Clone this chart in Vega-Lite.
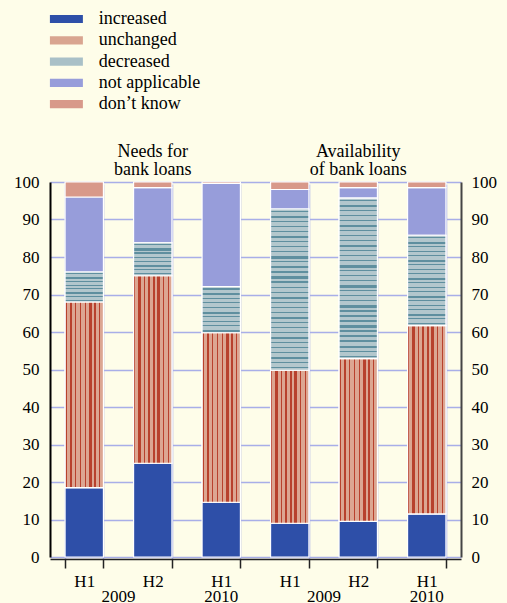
{
  "$schema": "https://vega.github.io/schema/vega-lite/v6.json",
  "width": 411,
  "height": 375,
  "autosize": {"type": "none"},
  "padding": {"left": 50, "top": 182, "right": 46, "bottom": 46},
  "background": "#fefde9",
  "config": {
    "view": {"stroke": null},
    "font": "Liberation Serif, Times New Roman, Times, serif",
    "axisX": {
      "labelExpr": "split(datum.label,' ')[1]", "labelAngle": 0,
      "labelFont": "Liberation Serif, Times New Roman, Times, serif",
      "labelFontSize": 17, "labelColor": "#000000", "labelPadding": 5,
      "tickBand": "extent", "ticks": true, "tickSize": 9, "tickColor": "#222222", "tickWidth": 1.5,
      "domainColor": "#222222", "domainWidth": 1.5, "offset": 2,
      "grid": true, "gridColor": "#a8aee8", "gridWidth": 1.5
    }
  },
  "datasets": {
    "bars": [
      {"bar": "Needs H1 2009", "half": "H1", "year": "2009", "series": "increased", "value": 18.5},
      {"bar": "Needs H1 2009", "half": "H1", "year": "2009", "series": "unchanged", "value": 49.5},
      {"bar": "Needs H1 2009", "half": "H1", "year": "2009", "series": "decreased", "value": 8},
      {"bar": "Needs H1 2009", "half": "H1", "year": "2009", "series": "not applicable", "value": 20},
      {"bar": "Needs H1 2009", "half": "H1", "year": "2009", "series": "don’t know", "value": 4},
      {"bar": "Needs H2 2009", "half": "H2", "year": "2009", "series": "increased", "value": 25},
      {"bar": "Needs H2 2009", "half": "H2", "year": "2009", "series": "unchanged", "value": 50},
      {"bar": "Needs H2 2009", "half": "H2", "year": "2009", "series": "decreased", "value": 8.8},
      {"bar": "Needs H2 2009", "half": "H2", "year": "2009", "series": "not applicable", "value": 14.7},
      {"bar": "Needs H2 2009", "half": "H2", "year": "2009", "series": "don’t know", "value": 1.5},
      {"bar": "Needs H1 2010", "half": "H1", "year": "2010", "series": "increased", "value": 14.6},
      {"bar": "Needs H1 2010", "half": "H1", "year": "2010", "series": "unchanged", "value": 45.2},
      {"bar": "Needs H1 2010", "half": "H1", "year": "2010", "series": "decreased", "value": 12.3},
      {"bar": "Needs H1 2010", "half": "H1", "year": "2010", "series": "not applicable", "value": 27.5},
      {"bar": "Needs H1 2010", "half": "H1", "year": "2010", "series": "don’t know", "value": 0.4},
      {"bar": "Availability H1 2009", "half": "H1", "year": "2009", "series": "increased", "value": 9},
      {"bar": "Availability H1 2009", "half": "H1", "year": "2009", "series": "unchanged", "value": 40.8},
      {"bar": "Availability H1 2009", "half": "H1", "year": "2009", "series": "decreased", "value": 43},
      {"bar": "Availability H1 2009", "half": "H1", "year": "2009", "series": "not applicable", "value": 5.2},
      {"bar": "Availability H1 2009", "half": "H1", "year": "2009", "series": "don’t know", "value": 2},
      {"bar": "Availability H2 2009", "half": "H2", "year": "2009", "series": "increased", "value": 9.5},
      {"bar": "Availability H2 2009", "half": "H2", "year": "2009", "series": "unchanged", "value": 43.4},
      {"bar": "Availability H2 2009", "half": "H2", "year": "2009", "series": "decreased", "value": 42.8},
      {"bar": "Availability H2 2009", "half": "H2", "year": "2009", "series": "not applicable", "value": 2.8},
      {"bar": "Availability H2 2009", "half": "H2", "year": "2009", "series": "don’t know", "value": 1.5},
      {"bar": "Availability H1 2010", "half": "H1", "year": "2010", "series": "increased", "value": 11.5},
      {"bar": "Availability H1 2010", "half": "H1", "year": "2010", "series": "unchanged", "value": 50.2},
      {"bar": "Availability H1 2010", "half": "H1", "year": "2010", "series": "decreased", "value": 24.1},
      {"bar": "Availability H1 2010", "half": "H1", "year": "2010", "series": "not applicable", "value": 12.7},
      {"bar": "Availability H1 2010", "half": "H1", "year": "2010", "series": "don’t know", "value": 1.5}
    ],
    "titles": [
      {"bar": "Needs H2 2009", "label": "Needs for\nbank loans"},
      {"bar": "Availability H2 2009", "label": "Availability\nof bank loans"}
    ]
  },
  "layer": [
    {
      "data": {"name": "bars"},
      "transform": [
        {"calculate": "indexof(['increased','unchanged','decreased','not applicable','don’t know'], datum.series)", "as": "k"},
        {"stack": "value", "groupby": ["bar"], "sort": [{"field": "k", "order": "ascending"}], "as": ["y0", "y1"]}
      ],
      "mark": {"type": "bar", "stroke": "#ffffff", "strokeWidth": 1.2},
      "encoding": {
        "x": {
          "field": "bar", "type": "nominal", "title": null,
          "scale": {"domain": ["Needs H1 2009", "Needs H2 2009", "Needs H1 2010", "Availability H1 2009", "Availability H2 2009", "Availability H1 2010"], "paddingInner": 0.44, "paddingOuter": 0.22}
        },
        "y": {
          "field": "y0", "type": "quantitative",
          "scale": {"domain": [0, 100], "nice": false},
          "axis": {
            "orient": "left", "title": null, "values": [0, 10, 20, 30, 40, 50, 60, 70, 80, 90, 100],
            "grid": true, "gridColor": "#a8aee8", "gridWidth": 1.5, "ticks": false,
            "domainColor": "#000000", "domainWidth": 2,
            "labelFont": "Liberation Serif, Times New Roman, Times, serif",
            "labelFontSize": 17, "labelPadding": 11, "labelColor": "#000000"
          }
        },
        "y2": {"field": "y1"},
        "color": {
          "field": "series", "type": "nominal",
          "scale": {
            "domain": ["increased", "unchanged", "decreased", "not applicable", "don’t know"],
            "range": ["#2e4fa8", "#d9a590", "#a9c0c7", "#979dda", "#d8998a"]
          },
          "legend": {
            "orient": "none", "legendX": 7.4, "legendY": -172, "title": null,
            "symbolType": "M-4,-1H4V1H-4Z", "symbolSize": 68, "symbolStrokeWidth": 0,
            "labelFontSize": 18, "labelFont": "Liberation Serif, Times New Roman, Times, serif", "labelColor": "#000000",
            "labelOffset": 23.3, "rowPadding": 3.3, "padding": 0
          }
        }
      }
    },
    {
      "data": {"name": "bars"},
      "transform": [
        {"calculate": "indexof(['increased','unchanged','decreased','not applicable','don’t know'], datum.series)", "as": "k"},
        {"stack": "value", "groupby": ["bar"], "sort": [{"field": "k", "order": "ascending"}], "as": ["y0", "y1"]},
        {"filter": "datum.series === 'unchanged'"}
      ],
      "mark": {
        "type": "bar", "stroke": "#ffffff", "strokeWidth": 1.2,
        "fill": {
          "gradient": "linear", "x1": 0, "y1": 0, "x2": 1, "y2": 0,
          "stops": [
            {"offset": 0, "color": "#dca692"},
            {"offset": 0.014, "color": "#dca692"}, {"offset": 0.014, "color": "#b8412d"}, {"offset": 0.046, "color": "#b8412d"}, {"offset": 0.046, "color": "#dca692"},
            {"offset": 0.12, "color": "#dca692"}, {"offset": 0.12, "color": "#b8412d"}, {"offset": 0.19, "color": "#b8412d"}, {"offset": 0.19, "color": "#dca692"},
            {"offset": 0.264, "color": "#dca692"}, {"offset": 0.264, "color": "#b8412d"}, {"offset": 0.296, "color": "#b8412d"}, {"offset": 0.296, "color": "#dca692"},
            {"offset": 0.389, "color": "#dca692"}, {"offset": 0.389, "color": "#b8412d"}, {"offset": 0.421, "color": "#b8412d"}, {"offset": 0.421, "color": "#dca692"},
            {"offset": 0.514, "color": "#dca692"}, {"offset": 0.514, "color": "#b8412d"}, {"offset": 0.546, "color": "#b8412d"}, {"offset": 0.546, "color": "#dca692"},
            {"offset": 0.62, "color": "#dca692"}, {"offset": 0.62, "color": "#b8412d"}, {"offset": 0.69, "color": "#b8412d"}, {"offset": 0.69, "color": "#dca692"},
            {"offset": 0.764, "color": "#dca692"}, {"offset": 0.764, "color": "#b8412d"}, {"offset": 0.796, "color": "#b8412d"}, {"offset": 0.796, "color": "#dca692"},
            {"offset": 0.889, "color": "#dca692"}, {"offset": 0.889, "color": "#b8412d"}, {"offset": 0.921, "color": "#b8412d"}, {"offset": 0.921, "color": "#dca692"},
            {"offset": 1, "color": "#dca692"}
          ]
        }
      },
      "encoding": {
        "x": {
          "field": "bar", "type": "nominal", "title": null,
          "scale": {"domain": ["Needs H1 2009", "Needs H2 2009", "Needs H1 2010", "Availability H1 2009", "Availability H2 2009", "Availability H1 2010"], "paddingInner": 0.44, "paddingOuter": 0.22}
        },
        "y": {
          "field": "y0", "type": "quantitative",
          "axis": {
            "orient": "right", "title": null, "values": [0, 10, 20, 30, 40, 50, 60, 70, 80, 90, 100],
            "grid": false, "ticks": false, "domainColor": "#444444", "domainWidth": 2,
            "labelFont": "Liberation Serif, Times New Roman, Times, serif",
            "labelFontSize": 17, "labelPadding": 10, "labelColor": "#000000"
          }
        },
        "y2": {"field": "y1"}
      }
    },
    {
      "data": {"name": "bars"},
      "transform": [
        {"calculate": "indexof(['increased','unchanged','decreased','not applicable','don’t know'], datum.series)", "as": "k"},
        {"stack": "value", "groupby": ["bar"], "sort": [{"field": "k", "order": "ascending"}], "as": ["y0", "y1"]},
        {"filter": "datum.series === 'decreased'"}
      ],
      "mark": {"type": "bar", "stroke": "#ffffff", "strokeWidth": 1.2},
      "encoding": {
        "x": {
          "field": "bar", "type": "nominal", "title": null,
          "scale": {"domain": ["Needs H1 2009", "Needs H2 2009", "Needs H1 2010", "Availability H1 2009", "Availability H2 2009", "Availability H1 2010"], "paddingInner": 0.44, "paddingOuter": 0.22}
        },
        "y": {"field": "y0", "type": "quantitative", "axis": null},
        "y2": {"field": "y1"},
        "fill": {
          "condition": [
            {
              "test": "datum.value > 30",
              "value": {
                "gradient": "linear", "x1": 0, "y1": 0, "x2": 0, "y2": 1,
                "stops": [
                  {"offset": 0, "color": "#b3c7cd"},
                  {"offset": 0.012, "color": "#b3c7cd"}, {"offset": 0.012, "color": "#5f8f9f"}, {"offset": 0.019, "color": "#5f8f9f"}, {"offset": 0.019, "color": "#b3c7cd"},
                  {"offset": 0.0433, "color": "#b3c7cd"}, {"offset": 0.0433, "color": "#5f8f9f"}, {"offset": 0.0573, "color": "#5f8f9f"}, {"offset": 0.0573, "color": "#b3c7cd"},
                  {"offset": 0.0745, "color": "#b3c7cd"}, {"offset": 0.0745, "color": "#5f8f9f"}, {"offset": 0.0815, "color": "#5f8f9f"}, {"offset": 0.0815, "color": "#b3c7cd"},
                  {"offset": 0.1058, "color": "#b3c7cd"}, {"offset": 0.1058, "color": "#5f8f9f"}, {"offset": 0.1128, "color": "#5f8f9f"}, {"offset": 0.1128, "color": "#b3c7cd"},
                  {"offset": 0.137, "color": "#b3c7cd"}, {"offset": 0.137, "color": "#5f8f9f"}, {"offset": 0.144, "color": "#5f8f9f"}, {"offset": 0.144, "color": "#b3c7cd"},
                  {"offset": 0.1683, "color": "#b3c7cd"}, {"offset": 0.1683, "color": "#5f8f9f"}, {"offset": 0.1823, "color": "#5f8f9f"}, {"offset": 0.1823, "color": "#b3c7cd"},
                  {"offset": 0.1995, "color": "#b3c7cd"}, {"offset": 0.1995, "color": "#5f8f9f"}, {"offset": 0.2065, "color": "#5f8f9f"}, {"offset": 0.2065, "color": "#b3c7cd"},
                  {"offset": 0.2308, "color": "#b3c7cd"}, {"offset": 0.2308, "color": "#5f8f9f"}, {"offset": 0.2378, "color": "#5f8f9f"}, {"offset": 0.2378, "color": "#b3c7cd"},
                  {"offset": 0.262, "color": "#b3c7cd"}, {"offset": 0.262, "color": "#5f8f9f"}, {"offset": 0.269, "color": "#5f8f9f"}, {"offset": 0.269, "color": "#b3c7cd"},
                  {"offset": 0.2933, "color": "#b3c7cd"}, {"offset": 0.2933, "color": "#5f8f9f"}, {"offset": 0.3073, "color": "#5f8f9f"}, {"offset": 0.3073, "color": "#b3c7cd"},
                  {"offset": 0.3245, "color": "#b3c7cd"}, {"offset": 0.3245, "color": "#5f8f9f"}, {"offset": 0.3315, "color": "#5f8f9f"}, {"offset": 0.3315, "color": "#b3c7cd"},
                  {"offset": 0.3558, "color": "#b3c7cd"}, {"offset": 0.3558, "color": "#5f8f9f"}, {"offset": 0.3628, "color": "#5f8f9f"}, {"offset": 0.3628, "color": "#b3c7cd"},
                  {"offset": 0.387, "color": "#b3c7cd"}, {"offset": 0.387, "color": "#5f8f9f"}, {"offset": 0.394, "color": "#5f8f9f"}, {"offset": 0.394, "color": "#b3c7cd"},
                  {"offset": 0.4183, "color": "#b3c7cd"}, {"offset": 0.4183, "color": "#5f8f9f"}, {"offset": 0.4323, "color": "#5f8f9f"}, {"offset": 0.4323, "color": "#b3c7cd"},
                  {"offset": 0.4495, "color": "#b3c7cd"}, {"offset": 0.4495, "color": "#5f8f9f"}, {"offset": 0.4565, "color": "#5f8f9f"}, {"offset": 0.4565, "color": "#b3c7cd"},
                  {"offset": 0.4808, "color": "#b3c7cd"}, {"offset": 0.4808, "color": "#5f8f9f"}, {"offset": 0.4878, "color": "#5f8f9f"}, {"offset": 0.4878, "color": "#b3c7cd"},
                  {"offset": 0.512, "color": "#b3c7cd"}, {"offset": 0.512, "color": "#5f8f9f"}, {"offset": 0.519, "color": "#5f8f9f"}, {"offset": 0.519, "color": "#b3c7cd"},
                  {"offset": 0.5433, "color": "#b3c7cd"}, {"offset": 0.5433, "color": "#5f8f9f"}, {"offset": 0.5573, "color": "#5f8f9f"}, {"offset": 0.5573, "color": "#b3c7cd"},
                  {"offset": 0.5745, "color": "#b3c7cd"}, {"offset": 0.5745, "color": "#5f8f9f"}, {"offset": 0.5815, "color": "#5f8f9f"}, {"offset": 0.5815, "color": "#b3c7cd"},
                  {"offset": 0.6058, "color": "#b3c7cd"}, {"offset": 0.6058, "color": "#5f8f9f"}, {"offset": 0.6128, "color": "#5f8f9f"}, {"offset": 0.6128, "color": "#b3c7cd"},
                  {"offset": 0.637, "color": "#b3c7cd"}, {"offset": 0.637, "color": "#5f8f9f"}, {"offset": 0.644, "color": "#5f8f9f"}, {"offset": 0.644, "color": "#b3c7cd"},
                  {"offset": 0.6683, "color": "#b3c7cd"}, {"offset": 0.6683, "color": "#5f8f9f"}, {"offset": 0.6823, "color": "#5f8f9f"}, {"offset": 0.6823, "color": "#b3c7cd"},
                  {"offset": 0.6995, "color": "#b3c7cd"}, {"offset": 0.6995, "color": "#5f8f9f"}, {"offset": 0.7065, "color": "#5f8f9f"}, {"offset": 0.7065, "color": "#b3c7cd"},
                  {"offset": 0.7308, "color": "#b3c7cd"}, {"offset": 0.7308, "color": "#5f8f9f"}, {"offset": 0.7378, "color": "#5f8f9f"}, {"offset": 0.7378, "color": "#b3c7cd"},
                  {"offset": 0.762, "color": "#b3c7cd"}, {"offset": 0.762, "color": "#5f8f9f"}, {"offset": 0.769, "color": "#5f8f9f"}, {"offset": 0.769, "color": "#b3c7cd"},
                  {"offset": 0.7933, "color": "#b3c7cd"}, {"offset": 0.7933, "color": "#5f8f9f"}, {"offset": 0.8073, "color": "#5f8f9f"}, {"offset": 0.8073, "color": "#b3c7cd"},
                  {"offset": 0.8245, "color": "#b3c7cd"}, {"offset": 0.8245, "color": "#5f8f9f"}, {"offset": 0.8315, "color": "#5f8f9f"}, {"offset": 0.8315, "color": "#b3c7cd"},
                  {"offset": 0.8558, "color": "#b3c7cd"}, {"offset": 0.8558, "color": "#5f8f9f"}, {"offset": 0.8628, "color": "#5f8f9f"}, {"offset": 0.8628, "color": "#b3c7cd"},
                  {"offset": 0.887, "color": "#b3c7cd"}, {"offset": 0.887, "color": "#5f8f9f"}, {"offset": 0.894, "color": "#5f8f9f"}, {"offset": 0.894, "color": "#b3c7cd"},
                  {"offset": 0.9183, "color": "#b3c7cd"}, {"offset": 0.9183, "color": "#5f8f9f"}, {"offset": 0.9323, "color": "#5f8f9f"}, {"offset": 0.9323, "color": "#b3c7cd"},
                  {"offset": 0.9495, "color": "#b3c7cd"}, {"offset": 0.9495, "color": "#5f8f9f"}, {"offset": 0.9565, "color": "#5f8f9f"}, {"offset": 0.9565, "color": "#b3c7cd"},
                  {"offset": 0.9808, "color": "#b3c7cd"}, {"offset": 0.9808, "color": "#5f8f9f"}, {"offset": 0.9878, "color": "#5f8f9f"}, {"offset": 0.9878, "color": "#b3c7cd"},
                  {"offset": 1, "color": "#b3c7cd"}
                ]
              }
            },
            {
              "test": "datum.value > 18",
              "value": {
                "gradient": "linear", "x1": 0, "y1": 0, "x2": 0, "y2": 1,
                "stops": [
                  {"offset": 0, "color": "#b3c7cd"},
                  {"offset": 0.02, "color": "#b3c7cd"}, {"offset": 0.02, "color": "#5f8f9f"}, {"offset": 0.032, "color": "#5f8f9f"}, {"offset": 0.032, "color": "#b3c7cd"},
                  {"offset": 0.07, "color": "#b3c7cd"}, {"offset": 0.07, "color": "#5f8f9f"}, {"offset": 0.095, "color": "#5f8f9f"}, {"offset": 0.095, "color": "#b3c7cd"},
                  {"offset": 0.12, "color": "#b3c7cd"}, {"offset": 0.12, "color": "#5f8f9f"}, {"offset": 0.132, "color": "#5f8f9f"}, {"offset": 0.132, "color": "#b3c7cd"},
                  {"offset": 0.17, "color": "#b3c7cd"}, {"offset": 0.17, "color": "#5f8f9f"}, {"offset": 0.182, "color": "#5f8f9f"}, {"offset": 0.182, "color": "#b3c7cd"},
                  {"offset": 0.22, "color": "#b3c7cd"}, {"offset": 0.22, "color": "#5f8f9f"}, {"offset": 0.232, "color": "#5f8f9f"}, {"offset": 0.232, "color": "#b3c7cd"},
                  {"offset": 0.27, "color": "#b3c7cd"}, {"offset": 0.27, "color": "#5f8f9f"}, {"offset": 0.295, "color": "#5f8f9f"}, {"offset": 0.295, "color": "#b3c7cd"},
                  {"offset": 0.32, "color": "#b3c7cd"}, {"offset": 0.32, "color": "#5f8f9f"}, {"offset": 0.332, "color": "#5f8f9f"}, {"offset": 0.332, "color": "#b3c7cd"},
                  {"offset": 0.37, "color": "#b3c7cd"}, {"offset": 0.37, "color": "#5f8f9f"}, {"offset": 0.382, "color": "#5f8f9f"}, {"offset": 0.382, "color": "#b3c7cd"},
                  {"offset": 0.42, "color": "#b3c7cd"}, {"offset": 0.42, "color": "#5f8f9f"}, {"offset": 0.432, "color": "#5f8f9f"}, {"offset": 0.432, "color": "#b3c7cd"},
                  {"offset": 0.47, "color": "#b3c7cd"}, {"offset": 0.47, "color": "#5f8f9f"}, {"offset": 0.495, "color": "#5f8f9f"}, {"offset": 0.495, "color": "#b3c7cd"},
                  {"offset": 0.52, "color": "#b3c7cd"}, {"offset": 0.52, "color": "#5f8f9f"}, {"offset": 0.532, "color": "#5f8f9f"}, {"offset": 0.532, "color": "#b3c7cd"},
                  {"offset": 0.57, "color": "#b3c7cd"}, {"offset": 0.57, "color": "#5f8f9f"}, {"offset": 0.582, "color": "#5f8f9f"}, {"offset": 0.582, "color": "#b3c7cd"},
                  {"offset": 0.62, "color": "#b3c7cd"}, {"offset": 0.62, "color": "#5f8f9f"}, {"offset": 0.632, "color": "#5f8f9f"}, {"offset": 0.632, "color": "#b3c7cd"},
                  {"offset": 0.67, "color": "#b3c7cd"}, {"offset": 0.67, "color": "#5f8f9f"}, {"offset": 0.695, "color": "#5f8f9f"}, {"offset": 0.695, "color": "#b3c7cd"},
                  {"offset": 0.72, "color": "#b3c7cd"}, {"offset": 0.72, "color": "#5f8f9f"}, {"offset": 0.732, "color": "#5f8f9f"}, {"offset": 0.732, "color": "#b3c7cd"},
                  {"offset": 0.77, "color": "#b3c7cd"}, {"offset": 0.77, "color": "#5f8f9f"}, {"offset": 0.782, "color": "#5f8f9f"}, {"offset": 0.782, "color": "#b3c7cd"},
                  {"offset": 0.82, "color": "#b3c7cd"}, {"offset": 0.82, "color": "#5f8f9f"}, {"offset": 0.832, "color": "#5f8f9f"}, {"offset": 0.832, "color": "#b3c7cd"},
                  {"offset": 0.87, "color": "#b3c7cd"}, {"offset": 0.87, "color": "#5f8f9f"}, {"offset": 0.895, "color": "#5f8f9f"}, {"offset": 0.895, "color": "#b3c7cd"},
                  {"offset": 0.92, "color": "#b3c7cd"}, {"offset": 0.92, "color": "#5f8f9f"}, {"offset": 0.932, "color": "#5f8f9f"}, {"offset": 0.932, "color": "#b3c7cd"},
                  {"offset": 0.97, "color": "#b3c7cd"}, {"offset": 0.97, "color": "#5f8f9f"}, {"offset": 0.982, "color": "#5f8f9f"}, {"offset": 0.982, "color": "#b3c7cd"},
                  {"offset": 1, "color": "#b3c7cd"}
                ]
              }
            },
            {
              "test": "datum.value > 10",
              "value": {
                "gradient": "linear", "x1": 0, "y1": 0, "x2": 0, "y2": 1,
                "stops": [
                  {"offset": 0, "color": "#b3c7cd"},
                  {"offset": 0.04, "color": "#b3c7cd"}, {"offset": 0.04, "color": "#5f8f9f"}, {"offset": 0.064, "color": "#5f8f9f"}, {"offset": 0.064, "color": "#b3c7cd"},
                  {"offset": 0.14, "color": "#b3c7cd"}, {"offset": 0.14, "color": "#5f8f9f"}, {"offset": 0.19, "color": "#5f8f9f"}, {"offset": 0.19, "color": "#b3c7cd"},
                  {"offset": 0.24, "color": "#b3c7cd"}, {"offset": 0.24, "color": "#5f8f9f"}, {"offset": 0.264, "color": "#5f8f9f"}, {"offset": 0.264, "color": "#b3c7cd"},
                  {"offset": 0.34, "color": "#b3c7cd"}, {"offset": 0.34, "color": "#5f8f9f"}, {"offset": 0.364, "color": "#5f8f9f"}, {"offset": 0.364, "color": "#b3c7cd"},
                  {"offset": 0.44, "color": "#b3c7cd"}, {"offset": 0.44, "color": "#5f8f9f"}, {"offset": 0.464, "color": "#5f8f9f"}, {"offset": 0.464, "color": "#b3c7cd"},
                  {"offset": 0.54, "color": "#b3c7cd"}, {"offset": 0.54, "color": "#5f8f9f"}, {"offset": 0.59, "color": "#5f8f9f"}, {"offset": 0.59, "color": "#b3c7cd"},
                  {"offset": 0.64, "color": "#b3c7cd"}, {"offset": 0.64, "color": "#5f8f9f"}, {"offset": 0.664, "color": "#5f8f9f"}, {"offset": 0.664, "color": "#b3c7cd"},
                  {"offset": 0.74, "color": "#b3c7cd"}, {"offset": 0.74, "color": "#5f8f9f"}, {"offset": 0.764, "color": "#5f8f9f"}, {"offset": 0.764, "color": "#b3c7cd"},
                  {"offset": 0.84, "color": "#b3c7cd"}, {"offset": 0.84, "color": "#5f8f9f"}, {"offset": 0.864, "color": "#5f8f9f"}, {"offset": 0.864, "color": "#b3c7cd"},
                  {"offset": 0.94, "color": "#b3c7cd"}, {"offset": 0.94, "color": "#5f8f9f"}, {"offset": 0.99, "color": "#5f8f9f"}, {"offset": 0.99, "color": "#b3c7cd"},
                  {"offset": 1, "color": "#b3c7cd"}
                ]
              }
            }
          ],
          "value": {
            "gradient": "linear", "x1": 0, "y1": 0, "x2": 0, "y2": 1,
            "stops": [
              {"offset": 0, "color": "#b3c7cd"},
              {"offset": 0.045, "color": "#b3c7cd"}, {"offset": 0.045, "color": "#5f8f9f"}, {"offset": 0.08, "color": "#5f8f9f"}, {"offset": 0.08, "color": "#b3c7cd"},
              {"offset": 0.17, "color": "#b3c7cd"}, {"offset": 0.17, "color": "#5f8f9f"}, {"offset": 0.24, "color": "#5f8f9f"}, {"offset": 0.24, "color": "#b3c7cd"},
              {"offset": 0.295, "color": "#b3c7cd"}, {"offset": 0.295, "color": "#5f8f9f"}, {"offset": 0.33, "color": "#5f8f9f"}, {"offset": 0.33, "color": "#b3c7cd"},
              {"offset": 0.42, "color": "#b3c7cd"}, {"offset": 0.42, "color": "#5f8f9f"}, {"offset": 0.455, "color": "#5f8f9f"}, {"offset": 0.455, "color": "#b3c7cd"},
              {"offset": 0.545, "color": "#b3c7cd"}, {"offset": 0.545, "color": "#5f8f9f"}, {"offset": 0.58, "color": "#5f8f9f"}, {"offset": 0.58, "color": "#b3c7cd"},
              {"offset": 0.67, "color": "#b3c7cd"}, {"offset": 0.67, "color": "#5f8f9f"}, {"offset": 0.74, "color": "#5f8f9f"}, {"offset": 0.74, "color": "#b3c7cd"},
              {"offset": 0.795, "color": "#b3c7cd"}, {"offset": 0.795, "color": "#5f8f9f"}, {"offset": 0.83, "color": "#5f8f9f"}, {"offset": 0.83, "color": "#b3c7cd"},
              {"offset": 0.92, "color": "#b3c7cd"}, {"offset": 0.92, "color": "#5f8f9f"}, {"offset": 0.955, "color": "#5f8f9f"}, {"offset": 0.955, "color": "#b3c7cd"},
              {"offset": 1, "color": "#b3c7cd"}
            ]
          }
        }
      }
    },
    {
      "data": {"name": "bars"},
      "transform": [{"filter": "datum.series === 'increased' && datum.half === 'H1' && datum.year === '2009'"}],
      "mark": {"type": "text", "fontSize": 17, "font": "Liberation Serif, Times New Roman, Times, serif", "color": "#000000", "baseline": "alphabetic", "dy": 45},
      "encoding": {
        "x": {
          "field": "bar", "type": "nominal", "title": null, "bandPosition": 1.393,
          "scale": {"domain": ["Needs H1 2009", "Needs H2 2009", "Needs H1 2010", "Availability H1 2009", "Availability H2 2009", "Availability H1 2010"], "paddingInner": 0.44, "paddingOuter": 0.22}
        },
        "y": {"datum": 0, "type": "quantitative", "axis": null},
        "text": {"field": "year"}
      }
    },
    {
      "data": {"name": "bars"},
      "transform": [{"filter": "datum.series === 'increased' && datum.year === '2010'"}],
      "mark": {"type": "text", "fontSize": 17, "font": "Liberation Serif, Times New Roman, Times, serif", "color": "#000000", "baseline": "alphabetic", "dy": 45},
      "encoding": {
        "x": {
          "field": "bar", "type": "nominal", "title": null,
          "scale": {"domain": ["Needs H1 2009", "Needs H2 2009", "Needs H1 2010", "Availability H1 2009", "Availability H2 2009", "Availability H1 2010"], "paddingInner": 0.44, "paddingOuter": 0.22}
        },
        "y": {"datum": 0, "type": "quantitative", "axis": null},
        "text": {"field": "year"}
      }
    },
    {
      "data": {"name": "titles"},
      "mark": {"type": "text", "fontSize": 18, "font": "Liberation Serif, Times New Roman, Times, serif", "color": "#000000", "baseline": "bottom", "dy": -21.5, "lineBreak": "\n", "lineHeight": 18},
      "encoding": {
        "x": {
          "field": "bar", "type": "nominal", "title": null,
          "scale": {"domain": ["Needs H1 2009", "Needs H2 2009", "Needs H1 2010", "Availability H1 2009", "Availability H2 2009", "Availability H1 2010"], "paddingInner": 0.44, "paddingOuter": 0.22}
        },
        "y": {"datum": 100, "type": "quantitative", "axis": null},
        "text": {"field": "label"}
      }
    }
  ],
  "resolve": {"axis": {"y": "independent"}}
}
